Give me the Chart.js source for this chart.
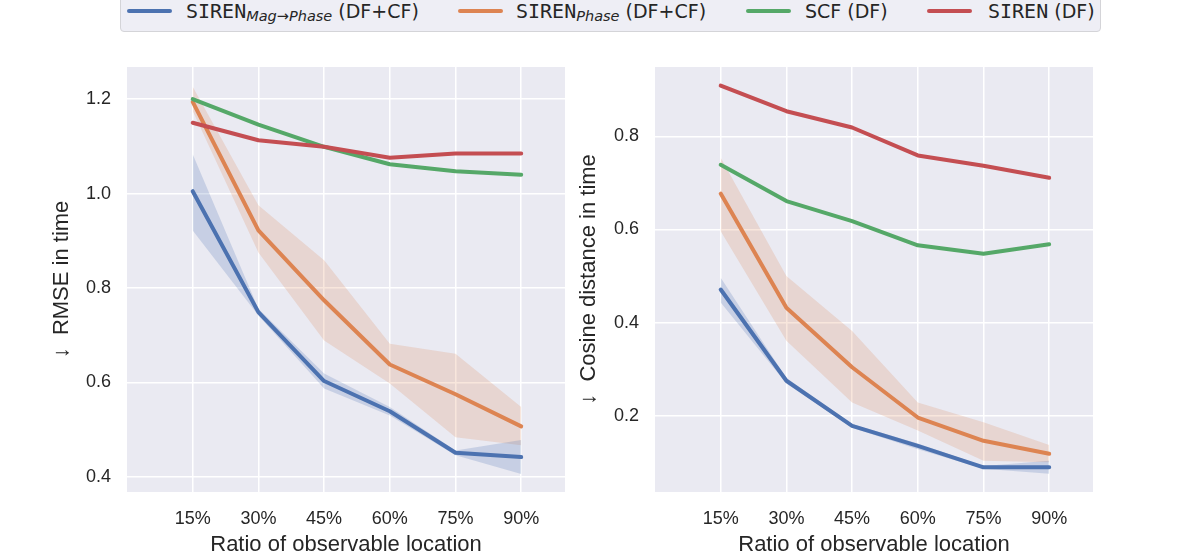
<!DOCTYPE html>
<html>
<head>
<meta charset="utf-8">
<script src="https://cdn.jsdelivr.net/npm/chart.js@4.4.1/dist/chart.umd.min.js"></script>
<style>
  html, body { margin: 0; padding: 0; background: #fff; }
  body { width: 1196px; height: 555px; overflow: hidden; position: relative; }
  #legend {
    position: absolute; left: 120px; top: -6px; width: 979px; height: 36px;
    border: 1px solid #d4d4d8; border-radius: 4px; background: rgba(234,234,242,0.8);
    font-family: "DejaVu Sans", sans-serif; font-size: 19px; color: #262626;
  }
  #legend .ln { position: absolute; top: 14px; width: 45px; height: 4px; border-radius: 2px; }
  #legend .tx { position: absolute; top: 5px; line-height: 22px; white-space: nowrap; }
  #legend .mono { font-family: "DejaVu Sans Mono", monospace; font-size: 20px; }
  #legend sub { font-style: italic; font-size: 14.5px; vertical-align: -3px; line-height: 0; }
  .box { position: absolute; top: 40px; height: 525px; }
</style>
</head>
<body>
<div id="legend">
  <div class="ln" style="left:6px;background:#4C72B0"></div>
  <span class="tx" style="left:65px"><span class="mono">SIREN</span><sub>Mag→Phase</sub> (DF+CF)</span>
  <div class="ln" style="left:337px;background:#DD8452"></div>
  <span class="tx" style="left:395px"><span class="mono">SIREN</span><sub>Phase</sub> (DF+CF)</span>
  <div class="ln" style="left:625px;background:#55A868"></div>
  <span class="tx" style="left:684px">SCF (DF)</span>
  <div class="ln" style="left:806px;background:#C44E52"></div>
  <span class="tx" style="left:867px"><span class="mono">SIREN</span> (DF)</span>
</div>
<div class="box" style="left:0;width:570px"><canvas id="rmse"></canvas></div>
<div class="box" style="left:570px;width:626px"><canvas id="cosine"></canvas></div>

<script>
// x positions (ratio of observable location, %)
const xVals = [15, 30, 45, 60, 75, 90];

// left panel: RMSE in time
const rmseMagPhase   = [1.005, 0.749, 0.603, 0.539, 0.451, 0.442];
const rmseMagPhaseHi = [1.083, 0.756, 0.619, 0.548, 0.456, 0.478];
const rmseMagPhaseLo = [0.922, 0.742, 0.587, 0.530, 0.446, 0.406];
const rmsePhase      = [1.194, 0.922, 0.774, 0.638, 0.575, 0.507];
const rmsePhaseHi    = [1.226, 0.975, 0.859, 0.682, 0.661, 0.548];
const rmsePhaseLo    = [1.175, 0.875, 0.689, 0.598, 0.484, 0.467];
const rmseSCF        = [1.200, 1.146, 1.099, 1.062, 1.047, 1.040];
const rmseSIREN      = [1.150, 1.113, 1.099, 1.076, 1.085, 1.085];
const rmseTicks      = [0.4, 0.6, 0.8, 1.0, 1.2];

// right panel: cosine distance in time
const cosMagPhase   = [0.471, 0.275, 0.178, 0.135, 0.089, 0.089];
const cosMagPhaseHi = [0.496, 0.281, 0.182, 0.140, 0.092, 0.103];
const cosMagPhaseLo = [0.443, 0.269, 0.174, 0.128, 0.086, 0.075];
const cosPhase      = [0.677, 0.432, 0.304, 0.196, 0.146, 0.118];
const cosPhaseHi    = [0.754, 0.500, 0.382, 0.228, 0.186, 0.137];
const cosPhaseLo    = [0.596, 0.361, 0.228, 0.168, 0.103, 0.100];
const cosSCF        = [0.739, 0.661, 0.618, 0.566, 0.548, 0.568];
const cosSIREN      = [0.909, 0.854, 0.819, 0.759, 0.737, 0.711];
const cosTicks      = [0.2, 0.4, 0.6, 0.8];

const BLUE = '#4C72B0', ORANGE = '#DD8452', GREEN = '#55A868', RED = '#C44E52';
const TXT = '#262626';
const SANS = '"Liberation Sans", Arial, sans-serif';

const pts = arr => xVals.map((x, i) => ({ x, y: arr[i] }));

const plotBg = {
  id: 'plotBg',
  beforeDraw(chart) {
    const { ctx, chartArea: a } = chart;
    ctx.save();
    ctx.fillStyle = '#EAEAF2';
    ctx.fillRect(a.left, a.top, a.width, a.height);
    ctx.restore();
  }
};

function line(data, color, order) {
  return { data: pts(data), borderColor: color, borderWidth: 4, pointRadius: 0,
           borderCapStyle: 'round', borderJoinStyle: 'round', fill: false, order };
}
function band(hi, lo, rgba) {
  return [
    { data: pts(hi), borderWidth: 0, pointRadius: 0, backgroundColor: rgba, fill: '+1', order: 10 },
    { data: pts(lo), borderWidth: 0, pointRadius: 0, fill: false, order: 10 }
  ];
}

function makeChart(id, cfg) {
  return new Chart(document.getElementById(id), {
    type: 'line',
    data: {
      datasets: [
        ...band(cfg.magHi, cfg.magLo, 'rgba(76,114,176,0.22)'),
        ...band(cfg.phHi, cfg.phLo, 'rgba(221,132,82,0.2)'),
        line(cfg.mag, BLUE, 4),
        line(cfg.ph, ORANGE, 3),
        line(cfg.scf, GREEN, 2),
        line(cfg.siren, RED, 1)
      ]
    },
    options: {
      responsive: true, maintainAspectRatio: false, animation: false,
      layout: { padding: { top: 27, right: cfg.padRight, left: 0, bottom: 0 } },
      plugins: { legend: { display: false }, tooltip: { enabled: false } },
      scales: {
        x: {
          type: 'linear', min: 0, max: 100,
          afterBuildTicks: s => { s.ticks = xVals.map(v => ({ value: v })); },
          afterFit: s => { s.height = 73; },
          grid: { color: '#ffffff', lineWidth: 1.5, drawTicks: false },
          border: { display: false },
          ticks: { callback: v => v + '%', font: { family: SANS, size: 18 }, color: TXT,
                   padding: 16, autoSkip: false, maxRotation: 0 },
          title: { display: true, text: 'Ratio of observable location',
                   font: { family: SANS, size: 22 }, color: TXT, padding: { top: 0, bottom: 7 } }
        },
        y: {
          min: cfg.yMin, max: cfg.yMax,
          afterBuildTicks: s => { s.ticks = cfg.yTicks.map(v => ({ value: v })); },
          afterFit: s => { s.width = cfg.yWidth; },
          grid: { color: '#ffffff', lineWidth: 1.5, drawTicks: false },
          border: { display: false },
          ticks: { callback: v => v.toFixed(1), font: { family: SANS, size: 18 }, color: TXT, padding: 16 },
          title: { display: true, text: cfg.yTitle,
                   font: { family: SANS, size: 22 }, color: TXT, padding: { top: cfg.titlePad, bottom: 0 } }
        }
      }
    },
    plugins: [plotBg]
  });
}

makeChart('rmse', {
  mag: rmseMagPhase, magHi: rmseMagPhaseHi, magLo: rmseMagPhaseLo,
  ph: rmsePhase, phHi: rmsePhaseHi, phLo: rmsePhaseLo,
  scf: rmseSCF, siren: rmseSIREN,
  yMin: 0.368, yMax: 1.268, yTicks: rmseTicks,
  yTitle: '↓  RMSE in time', yWidth: 127, titlePad: 49, padRight: 5
});

makeChart('cosine', {
  mag: cosMagPhase, magHi: cosMagPhaseHi, magLo: cosMagPhaseLo,
  ph: cosPhase, phHi: cosPhaseHi, phLo: cosPhaseLo,
  scf: cosSCF, siren: cosSIREN,
  yMin: 0.036, yMax: 0.949, yTicks: cosTicks,
  yTitle: '↓  Cosine distance in time', yWidth: 85, titlePad: 6, padRight: 103
});
</script>
</body>
</html>
